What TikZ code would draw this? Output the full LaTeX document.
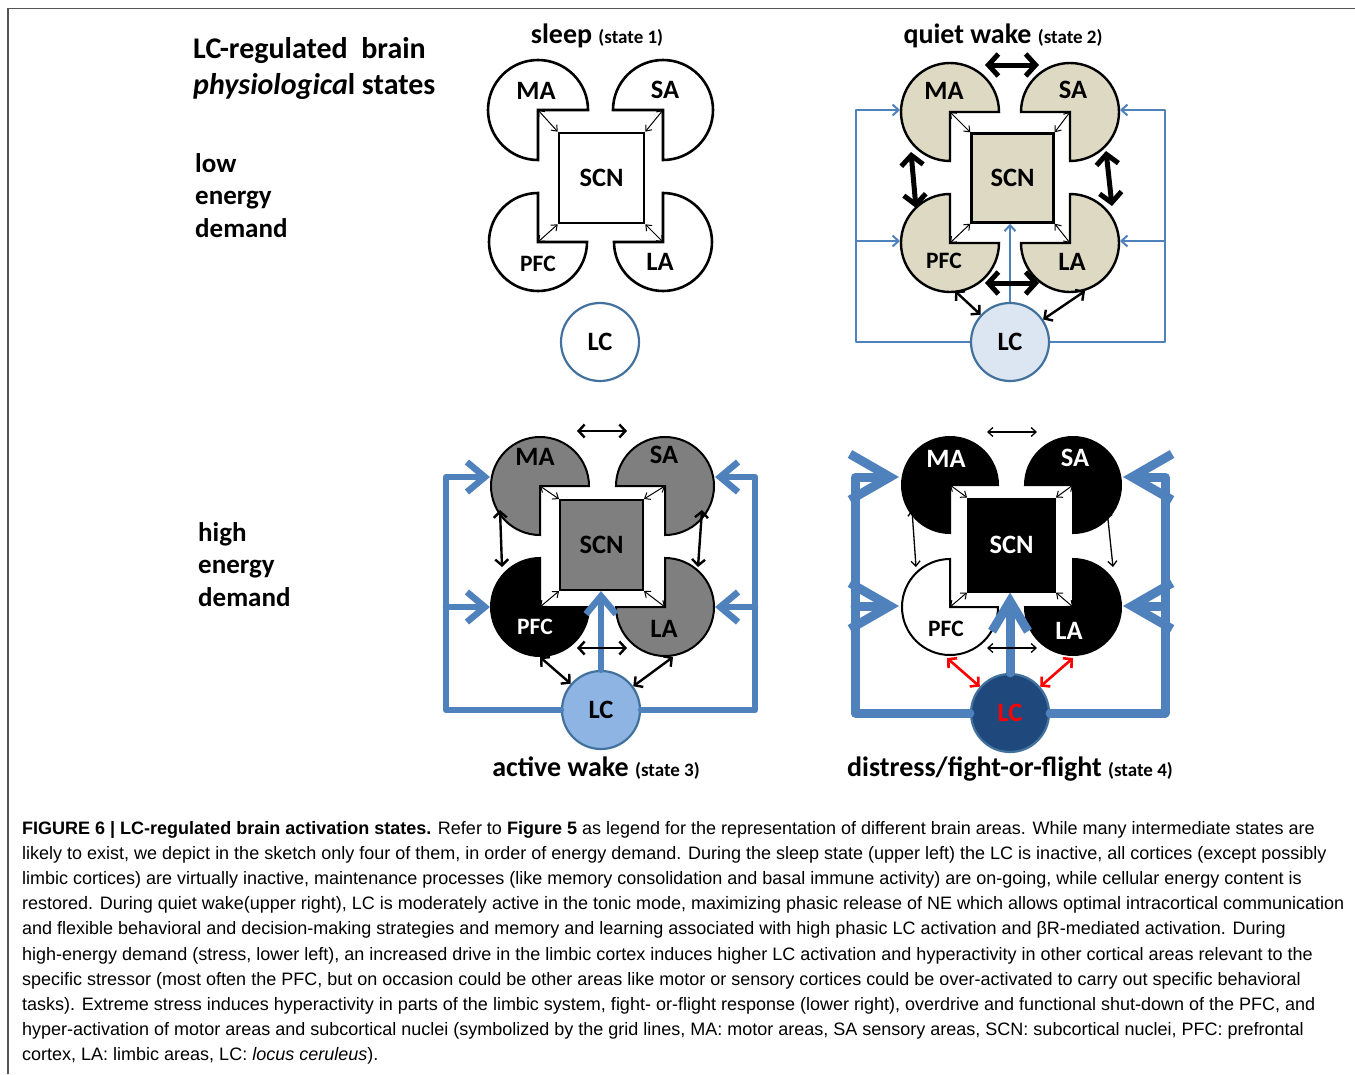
\documentclass[tikz,border=0pt]{standalone}
\usepackage{fontspec}
\setmainfont{Carlito}
\newfontfamily\capfont{Liberation Sans}
\usetikzlibrary{arrows.meta}
\definecolor{tanfill}{HTML}{DDD9C3}
\definecolor{lcline}{HTML}{4F81BD}
\definecolor{lcedge}{HTML}{41719C}
\definecolor{lclight}{HTML}{DCE6F2}
\definecolor{lcmid}{HTML}{8EB4E3}
\definecolor{lcdark}{HTML}{1F497D}
\definecolor{grayfill}{HTML}{7F7F7F}
\definecolor{framegray}{HTML}{555555}
\newcommand\pacshape[7]{\draw[line width=#7,fill=#6] (#2,#3) coordinate (#1) -- ++(#4:#5) arc[start angle=#4,delta angle=270,radius=#5] -- cycle;}
\newcommand\lblfont{\bfseries\fontsize{26.5}{26.5}\selectfont}
\tikzset{
  lbl/.style={font=\lblfont,inner sep=0pt},
  pfcl/.style={font=\bfseries\fontsize{23.5}{23.5}\selectfont,inner sep=0pt},
  scnbox/.style={draw,inner sep=0pt,font=\lblfont},
  lcnode/.style={circle,draw=lcedge,line width=2.2pt,minimum size=78pt,inner sep=0pt,font=\lblfont},
  arrS/.style={line width=1pt,{Straight Barb[length=5pt,width=8pt]}-{Straight Barb[length=5pt,width=8pt]}},
  arrH/.style={line width=5pt,{Straight Barb[length=10pt,width=22pt]}-{Straight Barb[length=10pt,width=22pt]}},
  arrM/.style={line width=2.4pt,{Straight Barb[length=6pt,width=13pt]}-{Straight Barb[length=6pt,width=13pt]}},
  arrF/.style={line width=1.3pt,{Straight Barb[length=5pt,width=9pt]}-{Straight Barb[length=5pt,width=9pt]}},
  arrR/.style={draw=red,line width=2.6pt,{Straight Barb[length=6pt,width=13pt]}-{Straight Barb[length=6pt,width=13pt]}},
  bluethin/.style={draw=lcline,line width=2pt,line join=round},
  thintip/.style={-{Straight Barb[length=6pt,width=11pt]}},
  bluethick/.style={draw=lcline,line width=6.5pt,line cap=round,line join=round},
  thicktip/.style={-{Straight Barb[length=18pt,width=30pt]}},
  blueheavy/.style={draw=lcline,line width=9pt,line cap=round,line join=round},
  heavytip/.style={-{Straight Barb[length=40pt,width=46pt]}},
  ttl/.style={anchor=base,inner sep=0pt},
  side/.style={anchor=base west,inner sep=0pt,font=\bfseries\fontsize{27}{27}\selectfont},
  bigside/.style={anchor=base west,inner sep=0pt,font=\bfseries\fontsize{30}{30}\selectfont},
  capline/.style={anchor=base west,inner sep=0pt,font=\capfont\fontsize{18}{18}\selectfont},
}
\newcommand\ttlbig{\bfseries\fontsize{28}{28}\selectfont}
\newcommand\ttlsmall{\fontsize{19}{19}\selectfont}
\begin{document}
\begin{tikzpicture}[x=1pt,y=-1pt]
\path[use as bounding box] (0,0) rectangle (1355,1074);
\draw[framegray,line width=1.5pt] (8,1074) -- (8,8.5) -- (1355,8.5);

% ---------- left titles ----------
\node[bigside] (title1) at (193,58) {LC-regulated~~brain};
\node[bigside] (title2) at (193,94) {\textit{physiologica}l states};
\node[side] (low1) at (195,172) {low};
\node[side] (low2) at (195,204) {energy};
\node[side] (low3) at (195,237) {demand};
\node[side] (high1) at (198,541) {high};
\node[side] (high2) at (198,573) {energy};
\node[side] (high3) at (198,606) {demand};

% ---------- state titles ----------
\node[ttl] (t1) at (597,43) {\ttlbig sleep {\ttlsmall (state 1)}};
\node[ttl] (t2) at (1003,43) {\ttlbig quiet wake {\ttlsmall (state 2)}};
\node[ttl] (t3) at (596,776) {\ttlbig active wake {\ttlsmall (state 3)}};
\node[ttl] (t4) at (1010,776) {\ttlbig distress/fight-or-flight {\ttlsmall (state 4)}};

% =========== STATE 1: sleep ===========
\pacshape{s1ma}{538}{110}{90}{50}{white}{2.6pt}
\pacshape{s1sa}{663}{110}{180}{50}{white}{2.6pt}
\pacshape{s1pfc}{538}{242}{0}{49}{white}{2.6pt}
\pacshape{s1la}{663}{242}{270}{49}{white}{2.6pt}
\node[scnbox,line width=2.6pt,minimum width=85pt,minimum height=90pt] (s1scn) at (601.5,178) {SCN};
\node[lbl] (s1mal) at (536,91) {MA};
\node[lbl] (s1sal) at (665,90) {SA};
\node[pfcl] (s1pfcl) at (538,264) {PFC};
\node[lbl] (s1lal) at (660,262) {LA};
\node[lcnode,fill=white] (s1lc) at (600,342) {LC};
\draw[arrS] (s1ma) -- (s1scn.north west);
\draw[arrS] (s1sa) -- (s1scn.north east);
\draw[arrS] (s1pfc) -- (s1scn.south west);
\draw[arrS] (s1la) -- (s1scn.south east);

% =========== STATE 2: quiet wake ===========
\coordinate (q2tl) at (856,110);
\coordinate (q2ml) at (856,241);
\coordinate (q2tr) at (1165,110);
\coordinate (q2mr) at (1165,241);
\coordinate (q2maw) at (900,110);
\coordinate (q2pfcw) at (900,241);
\coordinate (q2sae) at (1120,110);
\coordinate (q2lae) at (1120,241);
\pacshape{q2ma}{950}{112}{90}{49}{tanfill}{2.4pt}
\pacshape{q2sa}{1070}{112}{180}{49}{tanfill}{2.4pt}
\pacshape{q2pfc}{950}{243}{0}{49}{tanfill}{2.4pt}
\pacshape{q2la}{1070}{243}{270}{49}{tanfill}{2.4pt}
\node[scnbox,fill=tanfill,line width=2.4pt,minimum width=82pt,minimum height=89pt] (q2scn) at (1012.5,178) {SCN};
\node[lbl] (q2mal) at (944,91) {MA};
\node[lbl] (q2sal) at (1073,90) {SA};
\node[pfcl] (q2pfcl) at (944,261) {PFC};
\node[lbl] (q2lal) at (1072,262) {LA};
\node[lcnode,fill=lclight] (q2lc) at (1010,342) {LC};
\draw[bluethin,thintip] (q2lc.west) -| (q2tl) -- (q2maw);
\draw[bluethin,thintip] (q2ml) -- (q2pfcw);
\draw[bluethin,thintip] (q2lc.east) -| (q2tr) -- (q2sae);
\draw[bluethin,thintip] (q2mr) -- (q2lae);
\draw[bluethin,thintip] (q2lc.north) -- (q2lc.north |- q2scn.south);
\draw[arrS] (q2ma) -- (q2scn.north west);
\draw[arrS] (q2sa) -- (q2scn.north east);
\draw[arrS] (q2pfc) -- (q2scn.south west);
\draw[arrS] (q2la) -- (q2scn.south east);
\draw[arrH] (985,65) -- (1039,65);
\draw[arrH] (985,283) -- (1039,283);
\draw[arrH] (911,152) -- (916,208);
\draw[arrH] (1106,151) -- (1112,206);
\draw[arrM] (955,291) -- (q2lc);
\draw[arrM] (1085,291) -- (q2lc);

% =========== STATE 3: active wake ===========
\coordinate (a3tl) at (446,477);
\coordinate (a3ml) at (446,607);
\coordinate (a3tr) at (755,477);
\coordinate (a3mr) at (755,607);
\coordinate (a3maw) at (490,477);
\coordinate (a3pfcw) at (490,607);
\coordinate (a3sae) at (715,477);
\coordinate (a3lae) at (715,607);
\pacshape{a3ma}{540}{486}{90}{49}{grayfill}{2pt}
\pacshape{a3sa}{665}{486}{180}{49}{grayfill}{2pt}
\pacshape{a3pfc}{540}{607}{0}{49}{black}{2pt}
\pacshape{a3la}{665}{607}{270}{49}{grayfill}{2pt}
\node[scnbox,fill=grayfill,line width=2pt,minimum width=83pt,minimum height=90pt] (a3scn) at (601.5,545) {SCN};
\node[lbl] (a3mal) at (535,457) {MA};
\node[lbl] (a3sal) at (664,455) {SA};
\node[pfcl,text=white] (a3pfcl) at (535,627) {PFC};
\node[lbl] (a3lal) at (664,629) {LA};
\node[lcnode,fill=lcmid] (a3lc) at (601,710) {LC};
\draw[bluethick,thicktip] (a3lc.west) -| (a3tl) -- (a3maw);
\draw[bluethick,thicktip] (a3ml) -- (a3pfcw);
\draw[bluethick,thicktip] (a3lc.east) -| (a3tr) -- (a3sae);
\draw[bluethick,thicktip] (a3mr) -- (a3lae);
\draw[bluethick,thicktip] (a3lc.north) -- (a3lc.north |- a3scn.south);
\draw[arrS] (a3ma) -- (a3scn.north west);
\draw[arrS] (a3sa) -- (a3scn.north east);
\draw[arrS] (a3pfc) -- (a3scn.south west);
\draw[arrS] (a3la) -- (a3scn.south east);
\draw[arrM] (577,431) -- (627,431);
\draw[arrM] (577,648) -- (627,648);
\draw[arrM] (500,510) -- (502,567);
\draw[arrM] (702,510) -- (698,567);
\draw[arrM] (540,657) -- (a3lc);
\draw[arrM] (673,657) -- (a3lc);

% =========== STATE 4: distress ===========
\coordinate (d4tl) at (855,477);
\coordinate (d4ml) at (855,606);
\coordinate (d4tr) at (1165,477);
\coordinate (d4mr) at (1165,606);
\coordinate (d4maw) at (899,477);
\coordinate (d4pfcw) at (899,606);
\coordinate (d4sae) at (1123,477);
\coordinate (d4lae) at (1123,606);
\pacshape{d4ma}{950}{485}{90}{48}{black}{2pt}
\pacshape{d4sa}{1073}{485}{180}{48}{black}{2pt}
\pacshape{d4pfc}{950}{607}{0}{48}{white}{2pt}
\pacshape{d4la}{1073}{607}{270}{48}{black}{2pt}
\node[scnbox,fill=black,line width=2pt,minimum width=87pt,minimum height=93pt,text=white] (d4scn) at (1011.5,545) {SCN};
\node[lbl,text=white] (d4mal) at (946,459) {MA};
\node[lbl,text=white] (d4sal) at (1075,458) {SA};
\node[pfcl] (d4pfcl) at (946,629) {PFC};
\node[lbl,text=white] (d4lal) at (1069,631) {LA};
\node[lcnode,fill=lcdark,text=red] (d4lc) at (1010,713) {LC};
\draw[blueheavy,heavytip] (d4lc.west) -| (d4tl) -- (d4maw);
\draw[blueheavy,heavytip] (d4ml) -- (d4pfcw);
\draw[blueheavy,heavytip] (d4lc.east) -| (d4tr) -- (d4sae);
\draw[blueheavy,heavytip] (d4mr) -- (d4lae);
\draw[blueheavy,-{Straight Barb[length=30pt,width=36pt]}] (d4lc.north) -- (d4lc.north |- d4scn.south);
\draw[arrS] (d4ma) -- (d4scn.north west);
\draw[arrS] (d4sa) -- (d4scn.north east);
\draw[arrS] (d4pfc) -- (d4scn.south west);
\draw[arrS] (d4la) -- (d4scn.south east);
\draw[arrF] (987,432) -- (1037,432);
\draw[arrF] (987,648) -- (1037,648);
\draw[arrF] (912,510) -- (916,567);
\draw[arrF] (1107,510) -- (1113,567);
\draw[arrR] (947,658) -- (d4lc);
\draw[arrR] (1073,658) -- (d4lc);

% ---------- caption ----------
\node[capline] (c1) at (22,834) {\bfseries FIGURE 6 | LC-regulated brain activation states.\mdseries{} Refer to \textbf{Figure 5} as legend for the representation of different brain areas. While many intermediate states are};
\node[capline] (c2) at (22,859) {likely to exist, we depict in the sketch only four of them, in order of energy demand. During the sleep state (upper left) the LC is inactive, all cortices (except possibly};
\node[capline] (c3) at (22,884) {limbic cortices) are virtually inactive, maintenance processes (like memory consolidation and basal immune activity) are on-going, while cellular energy content is};
\node[capline] (c4) at (22,909) {restored. During quiet wake(upper right), LC is moderately active in the tonic mode, maximizing phasic release of NE which allows optimal intracortical communication};
\node[capline] (c5) at (22,934) {and flexible behavioral and decision-making strategies and memory and learning associated with high phasic LC activation and βR-mediated activation. During};
\node[capline] (c6) at (22,960) {high-energy demand (stress, lower left), an increased drive in the limbic cortex induces higher LC activation and hyperactivity in other cortical areas relevant to the};
\node[capline] (c7) at (22,985) {specific stressor (most often the PFC, but on occasion could be other areas like motor or sensory cortices could be over-activated to carry out specific behavioral};
\node[capline] (c8) at (22,1010) {tasks). Extreme stress induces hyperactivity in parts of the limbic system, fight- or-flight response (lower right), overdrive and functional shut-down of the PFC, and};
\node[capline] (c9) at (22,1035) {hyper-activation of motor areas and subcortical nuclei (symbolized by the grid lines, MA: motor areas, SA sensory areas, SCN: subcortical nuclei, PFC: prefrontal};
\node[capline] (c10) at (22,1060) {cortex, LA: limbic areas, LC: \textit{locus ceruleus}).};
\end{tikzpicture}
\end{document}
